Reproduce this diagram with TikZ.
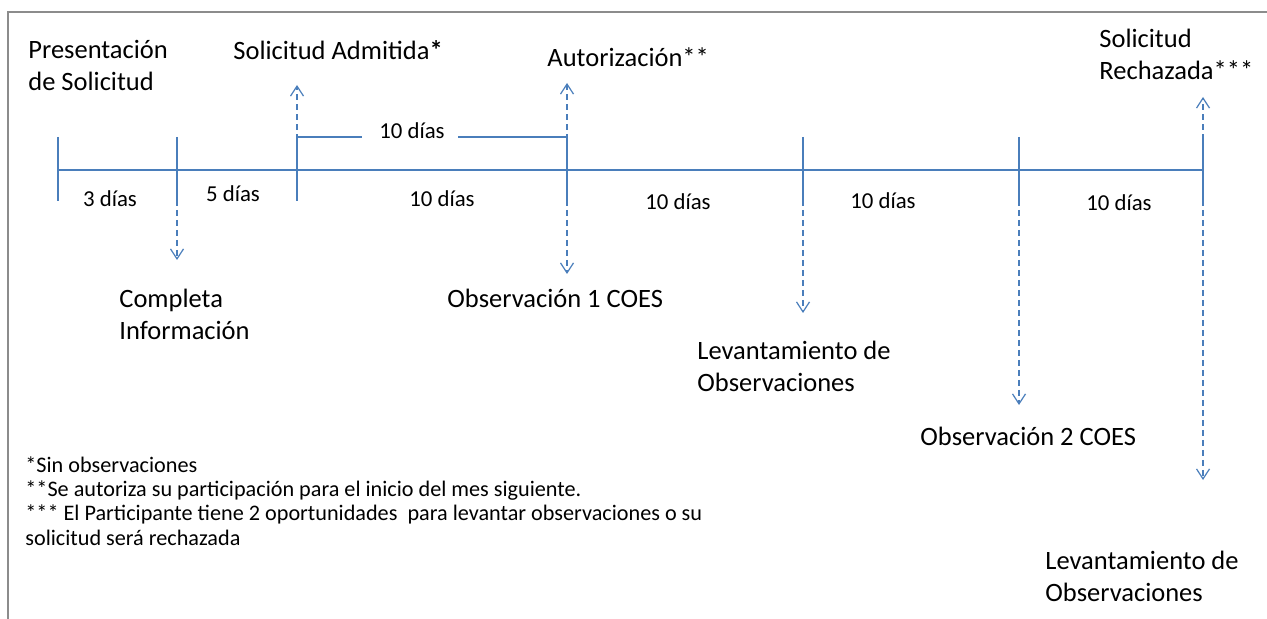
\documentclass[tikz,border=0pt]{standalone}
\usepackage{fontspec}
\setmainfont{Carlito}
\usetikzlibrary{arrows.meta}
\definecolor{lineblue}{HTML}{4A7EBB}
\definecolor{framegray}{HTML}{8C8C8C}

\begin{document}
\begin{tikzpicture}[%
 x=0.5pt, y=-0.5pt,
 axis/.style={
 	draw=lineblue,
 	line width=0.75pt
 },
 dline/.style={
 	draw=lineblue,
 	line width=0.6pt,
 	dash pattern=on 3.2pt off 1.8pt,
 	-{Straight Barb[length=5pt,width=6.5pt]}
 },
 lbl/.style={
 	anchor=north west,
 	inner sep=0pt,
 	align=left,
 	font=\fontsize{13.25}{16}\selectfont
 },
 dias/.style={
 	inner sep=0pt,
 	font=\fontsize{11.4}{14}\selectfont
 },
 nota/.style={
 	anchor=north west,
 	inner sep=0pt,
 	align=left,
 	font=\fontsize{11.1}{12.2}\selectfont
 }
 ]
\useasboundingbox (0,0) rectangle (1267,619);
\draw[framegray, line width=1pt] (1267,12) -- (8,12) -- (8,619);

\path (58,170) coordinate (t0)
 (177,170) coordinate (t1)
 (297,170) coordinate (t2)
 (567,170) coordinate (t3)
 (803,170) coordinate (t4)
 (1019,170) coordinate (t5)
 (1203,170) coordinate (t6);
\draw[axis] (t0) -- (t6);
\foreach \t in {t0,t1,t2,t3,t4,t5,t6}
 \draw[axis] (\t) ++(0,-33) -- ++(0,64);

% 10 dias de admitida a autorizacion
\path (297,137) coordinate (b0) (567,137) coordinate (b1);
\draw (412,131) node[dias] (brk) {10 días};
\draw[axis] (b0) -- (362,137);
\draw[axis] (458,137) -- (b1);

\draw (110,199) node[dias] (d1) {3 días};
\draw (233,194) node[dias] (d2) {5 días};
\path (442,199) node[dias] (d3) {10 días}
 (678,202) node[dias] (d4) {10 días}
 (883,201) node[dias] (d5) {10 días}
 (1119,203) node[dias] (d6) {10 días};

\path (28,40) node[lbl] (pres) {Presentación\\de Solicitud}
 (233,40) node[lbl] (adm) {Solicitud Admitida\textbf{*}}
 (547,47) node[lbl] (aut) {Autorización**}
 (1099,29) node[lbl] (rech) {Solicitud\\Rechazada***}
 (119,289) node[lbl] (comp) {Completa\\Información}
 (447,289) node[lbl] (obs1) {Observación 1 COES}
 (697,341) node[lbl] (lev1) {Levantamiento de\\Observaciones}
 (920,427) node[lbl] (obs2) {Observación 2 COES}
 (1045,551) node[lbl] (lev2) {Levantamiento de\\Observaciones};

\path (177,260) coordinate (e1)
 (297,85) coordinate (u2)
 (567,83) coordinate (u3)
 (567,274) coordinate (e3)
 (803,313) coordinate (e4)
 (1019,405) coordinate (e5)
 (1203,97) coordinate (u6)
 (1203,480) coordinate (e6);
\draw[dline] (t1) -- (e1);
\draw[dline] (t2) -- (u2);
\draw[dline] (t3) -- (u3);
\draw[dline] (t3) -- (e3);
\draw[dline] (t4) -- (e4);
\draw[dline] (t5) -- (e5);
\draw[dline] (t6) -- (u6);
\draw[dline] (t6) -- (e6);

\draw (25,456) node[nota] (notas) {*Sin observaciones\\**Se autoriza su participación para el inicio del mes siguiente.\\*** El Participante tiene 2 oportunidades\ \ para levantar observaciones o su\\solicitud será rechazada};
\end{tikzpicture}
\end{document}
